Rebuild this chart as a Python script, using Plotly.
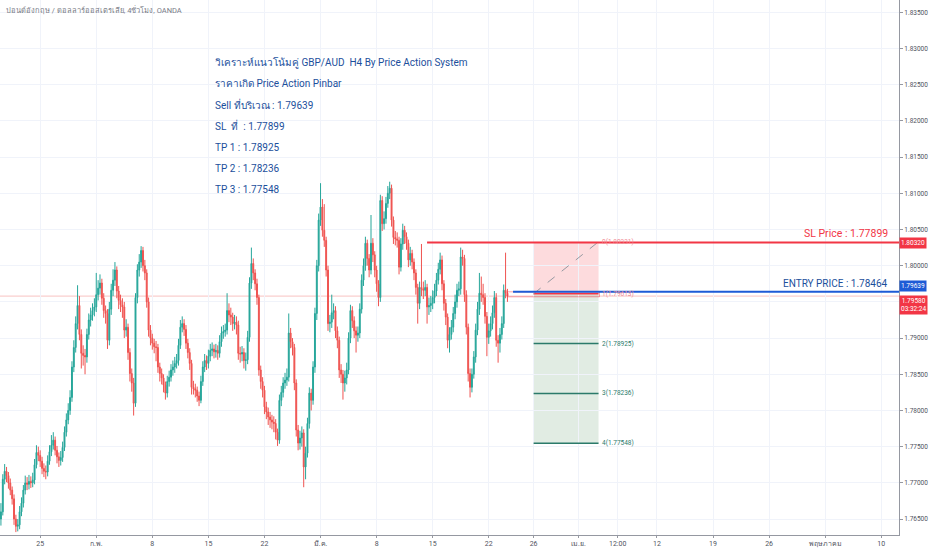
import pandas as pd
import plotly.graph_objects as go

# GBP/AUD 4H candles (OANDA)
OPENS = [
    1.7650, 1.7660, 1.7705, 1.7716, 1.7710, 1.7700, 1.7690, 1.7678, 1.7650, 1.7640,
    1.7642, 1.7660, 1.7672, 1.7690, 1.7700, 1.7698, 1.7702, 1.7700, 1.7704, 1.7725,
    1.7742, 1.7738, 1.7730, 1.7720, 1.7716, 1.7715, 1.7730, 1.7743, 1.7752, 1.7759,
    1.7745, 1.7736, 1.7731, 1.7735, 1.7749, 1.7770, 1.7787, 1.7800, 1.7818, 1.7860,
    1.7887, 1.7920, 1.7945, 1.7905, 1.7879, 1.7876, 1.7874, 1.7905, 1.7925, 1.7932,
    1.7938, 1.7943, 1.7960, 1.7969, 1.7976, 1.7955, 1.7938, 1.7934, 1.7897, 1.7940,
    1.7966, 1.7980, 1.7994, 1.7965, 1.7952, 1.7946, 1.7943, 1.7911, 1.7915, 1.7880,
    1.7851, 1.7838, 1.7810, 1.7956, 1.7994, 1.8005, 1.8021, 1.8000, 1.7990, 1.7950,
    1.7911, 1.7900, 1.7893, 1.7888, 1.7887, 1.7860, 1.7851, 1.7845, 1.7835, 1.7824,
    1.7840, 1.7846, 1.7856, 1.7860, 1.7865, 1.7869, 1.7890, 1.7915, 1.7920, 1.7912,
    1.7893, 1.7880, 1.7865, 1.7832, 1.7830, 1.7828, 1.7820, 1.7814, 1.7840, 1.7860,
    1.7869, 1.7865, 1.7875, 1.7883, 1.7885, 1.7881, 1.7883, 1.7879, 1.7895, 1.7907,
    1.7909, 1.7911, 1.7938, 1.7932, 1.7929, 1.7920, 1.7922, 1.7918, 1.7879, 1.7878,
    1.7880, 1.7869, 1.7870, 1.7901, 1.7976, 1.8003, 1.7990, 1.7975, 1.7956, 1.7856,
    1.7840, 1.7828, 1.7805, 1.7798, 1.7791, 1.7787, 1.7784, 1.7782, 1.7770, 1.7759,
    1.7814, 1.7825, 1.7838, 1.7842, 1.7846, 1.7907, 1.7895, 1.7887, 1.7838, 1.7773,
    1.7755, 1.7762, 1.7769, 1.7722, 1.7741, 1.7782, 1.7824, 1.7814, 1.7860, 1.7934,
    1.8000, 1.8063, 1.8081, 1.8049, 1.8035, 1.7994, 1.7920, 1.7922, 1.7935, 1.7938,
    1.7910, 1.7897, 1.7856, 1.7850, 1.7838, 1.7845, 1.7856, 1.7900, 1.7938, 1.7924,
    1.7910, 1.7904, 1.7907, 1.7940, 1.7980, 1.8000, 1.8031, 1.8010, 1.7994, 1.8031,
    1.8015, 1.7994, 1.7975, 1.7956, 1.8090, 1.8058, 1.8065, 1.8086, 1.8100, 1.8107,
    1.8063, 1.8039, 1.8037, 1.8035, 1.7998, 1.8030, 1.8049, 1.8040, 1.8031, 1.8008,
    1.8017, 1.8005, 1.7990, 1.7970, 1.7948, 1.7970, 1.7968, 1.7966, 1.7970, 1.7943,
    1.7945, 1.7948, 1.7956, 1.7965, 1.7980, 1.7995, 1.8008, 1.7975, 1.7948, 1.7929,
    1.7897, 1.7905, 1.7915, 1.7934, 1.7950, 1.7966, 1.7968, 1.8012, 1.8010, 1.7960,
    1.7915, 1.7851, 1.7832, 1.7850, 1.7874, 1.7911, 1.7940, 1.7962, 1.7960, 1.7956,
    1.7930, 1.7901, 1.7910, 1.7920, 1.7935, 1.7956, 1.7897, 1.7893, 1.7905, 1.7920,
    1.7966, 1.7962,
]
HIGHS = [
    1.7672, 1.7712, 1.7726, 1.7722, 1.7715, 1.7706, 1.7695, 1.7684, 1.7656, 1.7650,
    1.7668, 1.7680, 1.7697, 1.7710, 1.7708, 1.7711, 1.7709, 1.7714, 1.7733, 1.7752,
    1.7750, 1.7745, 1.7736, 1.7727, 1.7724, 1.7738, 1.7752, 1.7766, 1.7770, 1.7764,
    1.7751, 1.7742, 1.7744, 1.7757, 1.7778, 1.7796, 1.7810, 1.7828, 1.7868, 1.7897,
    1.7930, 1.7973, 1.7958, 1.7912, 1.7890, 1.7885, 1.7913, 1.7934, 1.7942, 1.7948,
    1.7955, 1.7990, 1.7980, 1.7988, 1.7982, 1.7962, 1.7945, 1.7940, 1.7950, 1.7975,
    1.7995, 1.8005, 1.7999, 1.7972, 1.7960, 1.7955, 1.7950, 1.7926, 1.7920, 1.7886,
    1.7858, 1.7845, 1.7962, 1.8002, 1.8016, 1.8027, 1.8026, 1.8008, 1.7995, 1.7956,
    1.7918, 1.7906, 1.7899, 1.7896, 1.7892, 1.7866, 1.7858, 1.7850, 1.7840, 1.7848,
    1.7855, 1.7864, 1.7869, 1.7874, 1.7878, 1.7899, 1.7925, 1.7930, 1.7926, 1.7918,
    1.7899, 1.7886, 1.7870, 1.7841, 1.7837, 1.7833, 1.7826, 1.7848, 1.7868, 1.7878,
    1.7876, 1.7884, 1.7892, 1.7894, 1.7891, 1.7892, 1.7890, 1.7904, 1.7916, 1.7918,
    1.7920, 1.7962, 1.7948, 1.7942, 1.7935, 1.7932, 1.7930, 1.7924, 1.7888, 1.7889,
    1.7886, 1.7880, 1.7910, 1.7984, 1.8025, 1.8010, 1.7995, 1.7982, 1.7960, 1.7862,
    1.7846, 1.7834, 1.7812, 1.7804, 1.7798, 1.7794, 1.7792, 1.7788, 1.7775, 1.7822,
    1.7834, 1.7846, 1.7852, 1.7858, 1.7934, 1.7914, 1.7900, 1.7892, 1.7843, 1.7780,
    1.7772, 1.7778, 1.7774, 1.7750, 1.7790, 1.7832, 1.7830, 1.7868, 1.7942, 1.8008,
    1.8072, 1.8114, 1.8092, 1.8085, 1.8040, 1.8000, 1.7932, 1.7960, 1.7948, 1.7944,
    1.7916, 1.7902, 1.7864, 1.7856, 1.7855, 1.7866, 1.7908, 1.7946, 1.7944, 1.7930,
    1.7916, 1.7916, 1.7948, 1.7988, 1.8010, 1.8040, 1.8036, 1.8016, 1.8070, 1.8038,
    1.8020, 1.8000, 1.7980, 1.8098, 1.8096, 1.8075, 1.8095, 1.8110, 1.8116, 1.8112,
    1.8068, 1.8048, 1.8046, 1.8040, 1.8038, 1.8058, 1.8055, 1.8046, 1.8036, 1.8026,
    1.8022, 1.8010, 1.7995, 1.7975, 1.7978, 1.8030, 1.7978, 1.7980, 1.7975, 1.7956,
    1.7958, 1.7966, 1.7975, 1.7990, 1.8004, 1.8018, 1.8014, 1.7980, 1.7954, 1.7934,
    1.7915, 1.7925, 1.7943, 1.7960, 1.7975, 1.7978, 1.8025, 1.8022, 1.8015, 1.7966,
    1.7920, 1.7858, 1.7858, 1.7882, 1.7920, 1.7950, 1.7990, 1.7985, 1.7975, 1.7962,
    1.7936, 1.7920, 1.7930, 1.7945, 1.7965, 1.7962, 1.7904, 1.7914, 1.7930, 1.7974,
    1.8018, 1.7968,
]
LOWS = [
    1.7641, 1.7655, 1.7698, 1.7701, 1.7692, 1.7683, 1.7670, 1.7642, 1.7632, 1.7633,
    1.7636, 1.7654, 1.7666, 1.7684, 1.7690, 1.7691, 1.7693, 1.7694, 1.7698, 1.7720,
    1.7730, 1.7722, 1.7712, 1.7708, 1.7705, 1.7709, 1.7725, 1.7737, 1.7746, 1.7738,
    1.7727, 1.7722, 1.7724, 1.7729, 1.7744, 1.7764, 1.7781, 1.7794, 1.7812, 1.7853,
    1.7880, 1.7912, 1.7897, 1.7858, 1.7862, 1.7850, 1.7866, 1.7898, 1.7916, 1.7924,
    1.7930, 1.7936, 1.7952, 1.7960, 1.7946, 1.7928, 1.7920, 1.7885, 1.7890, 1.7932,
    1.7958, 1.7972, 1.7955, 1.7940, 1.7936, 1.7928, 1.7900, 1.7902, 1.7870, 1.7840,
    1.7826, 1.7793, 1.7805, 1.7948, 1.7985, 1.7997, 1.7992, 1.7980, 1.7942, 1.7902,
    1.7890, 1.7884, 1.7879, 1.7868, 1.7852, 1.7840, 1.7836, 1.7825, 1.7815, 1.7818,
    1.7833, 1.7840, 1.7848, 1.7852, 1.7858, 1.7862, 1.7885, 1.7908, 1.7903, 1.7885,
    1.7872, 1.7856, 1.7822, 1.7822, 1.7818, 1.7812, 1.7806, 1.7810, 1.7834, 1.7853,
    1.7856, 1.7858, 1.7868, 1.7875, 1.7872, 1.7873, 1.7870, 1.7873, 1.7888, 1.7899,
    1.7902, 1.7905, 1.7922, 1.7918, 1.7910, 1.7912, 1.7905, 1.7870, 1.7866, 1.7868,
    1.7858, 1.7855, 1.7864, 1.7895, 1.7968, 1.7980, 1.7966, 1.7946, 1.7848, 1.7830,
    1.7818, 1.7795, 1.7788, 1.7780, 1.7776, 1.7774, 1.7770, 1.7760, 1.7751, 1.7754,
    1.7806, 1.7818, 1.7830, 1.7834, 1.7840, 1.7886, 1.7876, 1.7828, 1.7764, 1.7745,
    1.7746, 1.7750, 1.7694, 1.7705, 1.7735, 1.7775, 1.7800, 1.7808, 1.7852, 1.7925,
    1.7992, 1.8055, 1.8040, 1.8026, 1.7985, 1.7910, 1.7908, 1.7914, 1.7926, 1.7900,
    1.7886, 1.7845, 1.7838, 1.7815, 1.7826, 1.7836, 1.7850, 1.7893, 1.7914, 1.7900,
    1.7880, 1.7895, 1.7900, 1.7934, 1.7972, 1.7993, 1.8000, 1.7984, 1.7988, 1.8005,
    1.7984, 1.7964, 1.7944, 1.7950, 1.8048, 1.8050, 1.8058, 1.8080, 1.8092, 1.8054,
    1.8030, 1.8028, 1.8025, 1.7988, 1.7992, 1.8022, 1.8030, 1.8022, 1.7998, 1.8000,
    1.7995, 1.7980, 1.7960, 1.7920, 1.7940, 1.7958, 1.7954, 1.7958, 1.7920, 1.7932,
    1.7936, 1.7940, 1.7948, 1.7958, 1.7974, 1.7988, 1.7966, 1.7938, 1.7918, 1.7886,
    1.7880, 1.7898, 1.7908, 1.7926, 1.7942, 1.7958, 1.7960, 1.8000, 1.7950, 1.7905,
    1.7840, 1.7818, 1.7825, 1.7844, 1.7866, 1.7904, 1.7932, 1.7950, 1.7946, 1.7920,
    1.7875, 1.7892, 1.7902, 1.7912, 1.7928, 1.7888, 1.7866, 1.7880, 1.7898, 1.7914,
    1.7955, 1.7950,
]
CLOSES = [
    1.7660, 1.7705, 1.7716, 1.7710, 1.7700, 1.7690, 1.7678, 1.7650, 1.7640, 1.7642,
    1.7660, 1.7672, 1.7690, 1.7700, 1.7698, 1.7702, 1.7700, 1.7704, 1.7725, 1.7742,
    1.7738, 1.7730, 1.7720, 1.7716, 1.7715, 1.7730, 1.7743, 1.7752, 1.7759, 1.7745,
    1.7736, 1.7731, 1.7735, 1.7749, 1.7770, 1.7787, 1.7800, 1.7818, 1.7860, 1.7887,
    1.7920, 1.7945, 1.7905, 1.7879, 1.7876, 1.7874, 1.7905, 1.7925, 1.7932, 1.7938,
    1.7943, 1.7960, 1.7969, 1.7976, 1.7955, 1.7938, 1.7934, 1.7897, 1.7940, 1.7966,
    1.7980, 1.7994, 1.7965, 1.7952, 1.7946, 1.7943, 1.7911, 1.7915, 1.7880, 1.7851,
    1.7838, 1.7810, 1.7956, 1.7994, 1.8005, 1.8021, 1.8000, 1.7990, 1.7950, 1.7911,
    1.7900, 1.7893, 1.7888, 1.7887, 1.7860, 1.7851, 1.7845, 1.7835, 1.7824, 1.7840,
    1.7846, 1.7856, 1.7860, 1.7865, 1.7869, 1.7890, 1.7915, 1.7920, 1.7912, 1.7893,
    1.7880, 1.7865, 1.7832, 1.7830, 1.7828, 1.7820, 1.7814, 1.7840, 1.7860, 1.7869,
    1.7865, 1.7875, 1.7883, 1.7885, 1.7881, 1.7883, 1.7879, 1.7895, 1.7907, 1.7909,
    1.7911, 1.7938, 1.7932, 1.7929, 1.7920, 1.7922, 1.7918, 1.7879, 1.7878, 1.7880,
    1.7869, 1.7870, 1.7901, 1.7976, 1.8003, 1.7990, 1.7975, 1.7956, 1.7856, 1.7840,
    1.7828, 1.7805, 1.7798, 1.7791, 1.7787, 1.7784, 1.7782, 1.7770, 1.7759, 1.7814,
    1.7825, 1.7838, 1.7842, 1.7846, 1.7907, 1.7895, 1.7887, 1.7838, 1.7773, 1.7755,
    1.7762, 1.7769, 1.7722, 1.7741, 1.7782, 1.7824, 1.7814, 1.7860, 1.7934, 1.8000,
    1.8063, 1.8081, 1.8049, 1.8035, 1.7994, 1.7920, 1.7922, 1.7935, 1.7938, 1.7910,
    1.7897, 1.7856, 1.7850, 1.7838, 1.7845, 1.7856, 1.7900, 1.7938, 1.7924, 1.7910,
    1.7904, 1.7907, 1.7940, 1.7980, 1.8000, 1.8031, 1.8010, 1.7994, 1.8031, 1.8015,
    1.7994, 1.7975, 1.7956, 1.8090, 1.8058, 1.8065, 1.8086, 1.8100, 1.8107, 1.8063,
    1.8039, 1.8037, 1.8035, 1.7998, 1.8030, 1.8049, 1.8040, 1.8031, 1.8008, 1.8017,
    1.8005, 1.7990, 1.7970, 1.7948, 1.7970, 1.7968, 1.7966, 1.7970, 1.7943, 1.7945,
    1.7948, 1.7956, 1.7965, 1.7980, 1.7995, 1.8008, 1.7975, 1.7948, 1.7929, 1.7897,
    1.7905, 1.7915, 1.7934, 1.7950, 1.7966, 1.7968, 1.8012, 1.8010, 1.7960, 1.7915,
    1.7851, 1.7832, 1.7850, 1.7874, 1.7911, 1.7940, 1.7962, 1.7960, 1.7956, 1.7930,
    1.7901, 1.7910, 1.7920, 1.7935, 1.7956, 1.7897, 1.7893, 1.7905, 1.7920, 1.7966,
    1.7962, 1.7958,
]

# date axis labels (Thai locale, TradingView style)
TICK_DATES = ["2021-01-25", "2021-02-01", "2021-02-08", "2021-02-15", "2021-02-22",
              "2021-03-01", "2021-03-08", "2021-03-15", "2021-03-22", "2021-03-26",
              "2021-04-01", "2021-04-06 12:00", "2021-04-12", "2021-04-19",
              "2021-04-26", "2021-05-03", "2021-05-10"]
TICK_TEXT = ["25", "ก.พ.", "8", "15", "22", "มี.ค.", "8", "15", "22", "26",
             "เม.ย.", "12:00", "12", "19", "26", "พฤษภาคม", "10"]

# price scale (1.79500 sits under the last-price badge, so it shows no label)
PRICE_TICKS = [1.765, 1.770, 1.775, 1.780, 1.785, 1.790, 1.795, 1.800,
               1.805, 1.810, 1.815, 1.820, 1.825, 1.830, 1.835]
PRICE_TEXT = ["1.76500", "1.77000", "1.77500", "1.78000", "1.78500", "1.79000", "",
              "1.80000", "1.80500", "1.81000", "1.81500", "1.82000", "1.82500",
              "1.83000", "1.83500"]

# trade setup levels
SL_LEVEL = 1.80320
ENTRY_LEVEL = 1.79639
LAST_PRICE = 1.79580
POS_STOP = 1.80331
POS_ENTRY = 1.79613
POS_TARGETS = [1.78925, 1.78236, 1.77548]

NOTE_LINES = [
    "วิเคราะห์แนวโน้มคู่ GBP/AUD  H4 By Price Action System",
    "ราคาเกิด Price Action Pinbar",
    "Sell ที่บริเวณ : 1.79639",
    "SL  ที่  : 1.77899",
    "TP 1 : 1.78925",
    "TP 2 : 1.78236",
    "TP 3 : 1.77548",
]

UP = "#26a69a"
DOWN = "#ef5350"
RED = "#f23645"
BLUE = "#1e5bd6"
NOTE_BLUE = "#1c4f9c"
GRID = "#f0f3fa"
FONT = "Roboto, Noto Sans, sans-serif"

times = pd.date_range("2021-01-19 12:00", "2021-03-31", freq="4h")
times = times[times.weekday < 5][:len(CLOSES)]

X_START = "2021-01-19 10:00"
X_END = "2021-05-11 14:00"
POS_X0 = "2021-03-26 00:00"
POS_X1 = "2021-04-02 19:00"

fig = go.Figure(go.Candlestick(
    x=times, open=OPENS, high=HIGHS, low=LOWS, close=CLOSES,
    increasing=dict(line=dict(color=UP, width=1), fillcolor=UP),
    decreasing=dict(line=dict(color=DOWN, width=1), fillcolor=DOWN),
    showlegend=False, hoverinfo="skip",
))

shapes = []
# last price line across the chart
shapes.append(dict(type="line", xref="x", yref="y", x0=X_START, x1=X_END,
                   y0=LAST_PRICE, y1=LAST_PRICE, layer="below",
                   line=dict(color="rgba(239,83,80,0.35)", width=1)))
# short position tool
shapes.append(dict(type="rect", xref="x", yref="y", x0=POS_X0, x1=POS_X1,
                   y0=POS_ENTRY, y1=POS_STOP, layer="below", line_width=0,
                   fillcolor="rgba(242,54,69,0.18)"))
shapes.append(dict(type="rect", xref="x", yref="y", x0=POS_X0, x1=POS_X1,
                   y0=POS_TARGETS[-1], y1=POS_ENTRY, layer="below", line_width=0,
                   fillcolor="rgba(76,145,90,0.17)"))
for lvl in POS_TARGETS:
    shapes.append(dict(type="line", xref="x", yref="y", x0=POS_X0, x1=POS_X1,
                       y0=lvl, y1=lvl, line=dict(color="#2b7a6a", width=1.5)))
shapes.append(dict(type="line", xref="x", yref="y", x0=POS_X0, x1=POS_X1,
                   y0=POS_ENTRY, y1=POS_ENTRY, line=dict(color=RED, width=1.5)))
shapes.append(dict(type="line", xref="x", yref="y", x0=POS_X0, x1=POS_X1,
                   y0=POS_ENTRY, y1=POS_STOP,
                   line=dict(color="#9598a1", width=1, dash="dash")))
# pinbar marker
shapes.append(dict(type="rect", xref="x", yref="y", x0="2021-03-23 16:00",
                   x1="2021-04-02 21:00", y0=LAST_PRICE - 0.0001, y1=ENTRY_LEVEL,
                   line=dict(color="rgba(242,54,69,0.45)", width=1)))
# SL and entry horizontal rays
shapes.append(dict(type="line", xref="x", yref="y", x0="2021-03-12 12:00", x1=X_END,
                   y0=SL_LEVEL, y1=SL_LEVEL, line=dict(color=RED, width=2)))
shapes.append(dict(type="line", xref="x", yref="y", x0="2021-03-24 04:00", x1=X_END,
                   y0=ENTRY_LEVEL, y1=ENTRY_LEVEL, line=dict(color=BLUE, width=2)))

ann = []
ann.append(dict(text="ปอนด์อังกฤษ / ดอลลาร์ออสเตรเลีย, 4ชั่วโมง, OANDA",
                xref="paper", yref="paper", x=0.004, y=0.995, xanchor="left",
                yanchor="top", showarrow=False, font=dict(size=7.5, color="#787b86")))
for k, line in enumerate(NOTE_LINES):
    ann.append(dict(text=line, xref="paper", yref="paper", x=0.237,
                    y=0.884 - k * 0.0398, xanchor="left", yanchor="middle",
                    showarrow=False, font=dict(size=10, color=NOTE_BLUE)))
ann.append(dict(text="SL Price : 1.77899", xref="paper", yref="y", x=0.99, y=SL_LEVEL,
                xanchor="right", yanchor="bottom", yshift=1, showarrow=False,
                font=dict(size=10.5, color=RED)))
ann.append(dict(text="ENTRY PRICE : 1.78464", xref="paper", yref="y", x=0.99,
                y=ENTRY_LEVEL, xanchor="right", yanchor="bottom", yshift=1,
                showarrow=False, font=dict(size=10, color=NOTE_BLUE)))
pos_labels = [(POS_STOP, "0(1.80331)", "#f08a93"), (POS_ENTRY, "1(1.79613)", "#f08a93")]
pos_labels += [(lvl, f"{i + 2}({lvl:.5f})", "#2b7a6a") for i, lvl in enumerate(POS_TARGETS)]
for lvl, txt, col in pos_labels:
    ann.append(dict(text=txt, xref="x", yref="y", x=POS_X1, y=lvl, xanchor="left",
                    yanchor="middle", xshift=1, showarrow=False,
                    font=dict(size=6.5, color=col)))
# price scale badges
for lvl, txt, col, shift in [(SL_LEVEL, "1.80320", RED, 0),
                             (ENTRY_LEVEL, "1.79639", BLUE, 6),
                             (LAST_PRICE, "1.79580<br>03:32:24", RED, -9)]:
    ann.append(dict(text=txt, xref="paper", yref="y", x=1.0, y=lvl, xanchor="left",
                    yanchor="middle", yshift=shift, showarrow=False, bgcolor=col,
                    borderpad=1, font=dict(size=6.5, color="white")))

fig.update_layout(
    width=932, height=550,
    margin=dict(l=0, r=33, t=0, b=15),
    paper_bgcolor="white", plot_bgcolor="white",
    font=dict(family=FONT, size=7, color="#131722"),
    shapes=shapes, annotations=ann,
    showlegend=False,
)
fig.update_xaxes(
    type="date", range=[X_START, X_END],
    rangeslider_visible=False,
    rangebreaks=[dict(bounds=["sat", "mon"])],
    tickvals=TICK_DATES, ticktext=TICK_TEXT,
    showgrid=True, gridcolor=GRID, gridwidth=1,
    showline=True, linecolor="#9598a1", linewidth=1,
    ticks="outside", ticklen=2, tickcolor="#9598a1",
    tickfont=dict(size=7, color="#50535e"),
)
fig.update_yaxes(
    side="right", range=[1.7628, 1.8367],
    tickvals=PRICE_TICKS, ticktext=PRICE_TEXT,
    showgrid=True, gridcolor=GRID, gridwidth=1, zeroline=False,
    showline=True, linecolor="#9598a1", linewidth=1,
    ticks="outside", ticklen=3, tickcolor="#9598a1",
    tickfont=dict(size=6.5, color="#50535e"),
)

# the page body has a default 8px margin; drop it so the chart fills the window
fig.write_html("out.html", config={"displayModeBar": False},
               post_script="document.body.style.margin='0';")
